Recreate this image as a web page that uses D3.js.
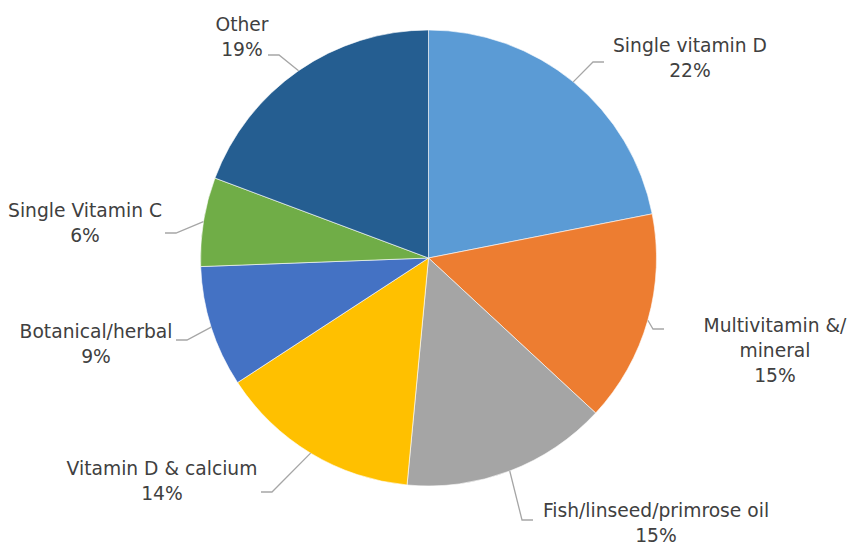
<!DOCTYPE html>
<html>
<head>
<meta charset="utf-8">
<script src="https://cdn.jsdelivr.net/npm/d3@7"></script>
<style>
  body { margin: 0; background: #fff; }
  text { font-family: "DejaVu Sans", Verdana, sans-serif; font-size: 18.7px; fill: #404040; }
</style>
</head>
<body>
<div class="plot1"></div>
<script>
var categories = ["Single vitamin D", "Multivitamin &/ mineral", "Fish/linseed/primrose oil",
                  "Vitamin D & calcium", "Botanical/herbal", "Single Vitamin C", "Other"];
var shares = [21.9, 15.0, 14.6, 14.3, 8.6, 6.3, 19.3];
var colors = ["#5b9bd5", "#ed7d31", "#a5a5a5", "#ffc000", "#4472c4", "#70ad47", "#255e91"];

// where each label sits: line end point, text centre x, first baseline, line breaks
var labelPos = [
  {ex: 604, ey: 62, cx: 690, ty: 52, lines: ["Single vitamin D"]},
  {ex: 664, ey: 329, cx: 775, ty: 332, lines: ["Multivitamin &/", "mineral"]},
  {ex: 533, ey: 520, cx: 656, ty: 517, lines: ["Fish/linseed/primrose oil"]},
  {ex: 261, ey: 492, cx: 162, ty: 475, lines: ["Vitamin D & calcium"]},
  {ex: 176, ey: 340, cx: 96, ty: 338, lines: ["Botanical/herbal"]},
  {ex: 165, ey: 233, cx: 85, ty: 217, lines: ["Single Vitamin C"]},
  {ex: 268, ey: 55, cx: 242, ty: 31, lines: ["Other"]}
];

var width = 848, height = 547;
var cx = 428.5, cy = 258, radius = 228;

var svg = d3.select(".plot1").append("svg")
  .attr("width", width)
  .attr("height", height);

var pie = d3.pie().sort(null).value(function(d) { return d; });
var arcs = pie(shares);

var arc = d3.arc().innerRadius(0).outerRadius(radius);

var g = svg.append("g").attr("transform", "translate(" + cx + "," + cy + ")");

g.selectAll("path")
  .data(arcs)
  .enter()
  .append("path")
  .attr("d", arc)
  .style("fill", function(d, i) { return colors[i]; })
  .style("stroke", "#fff")
  .style("stroke-width", 0.6);

// leader lines
svg.selectAll("polyline")
  .data(arcs)
  .enter()
  .append("polyline")
  .attr("points", function(d, i) {
    var a = (d.startAngle + d.endAngle) / 2;
    var sx = cx + radius * Math.sin(a), sy = cy - radius * Math.cos(a);
    var p = labelPos[i];
    var right = p.ex > sx;
    var kx = p.ex + (right ? -11 : 11);
    return [[sx, sy], [kx, p.ey], [p.ex, p.ey]].join(" ");
  })
  .style("fill", "none")
  .style("stroke", "#a6a6a6")
  .style("stroke-width", 1.3);

var labels = svg.selectAll("text.lbl")
  .data(arcs)
  .enter()
  .append("text")
  .attr("class", "lbl")
  .attr("text-anchor", "middle");

labels.each(function(d, i) {
  var p = labelPos[i];
  var lines = p.lines.concat([Math.round(shares[i]) + "%"]);
  var t = d3.select(this);
  lines.forEach(function(s, j) {
    t.append("tspan")
      .attr("x", p.cx)
      .attr("y", p.ty + j * 25)
      .text(s);
  });
});
</script>
</body>
</html>
